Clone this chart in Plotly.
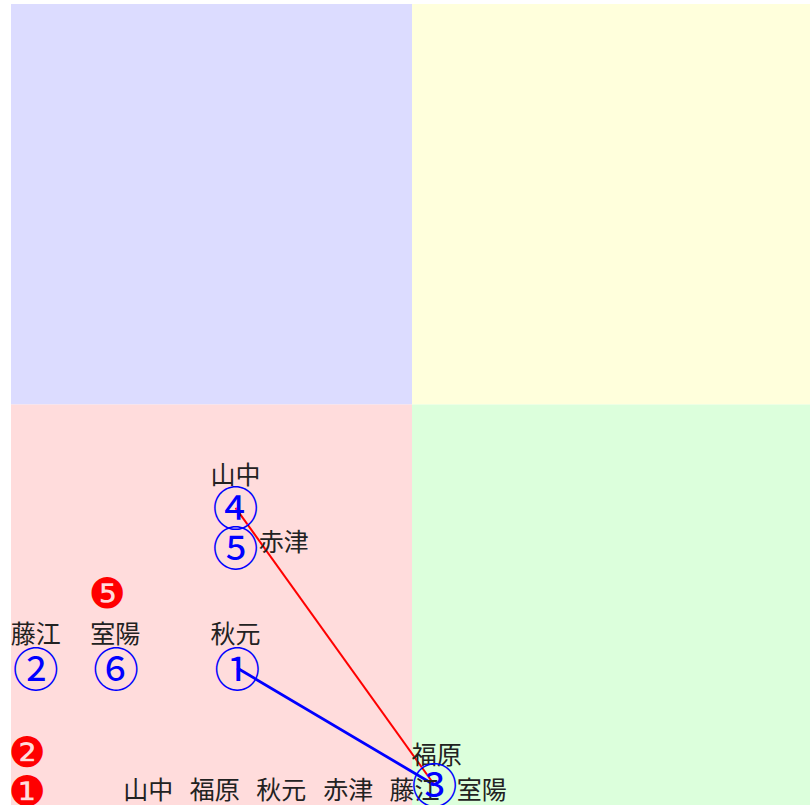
import plotly.graph_objects as go

# Blue circled markers (members)
member_marks = ["①", "②", "③", "④", "⑤", "⑥"]
member_x = [28.2, 3.1, 52.8, 28.0, 28.0, 13.1]
member_y = [17.1, 17.1, 2.5, 37.1, 32.2, 17.1]

# Name labels next to markers
name_labels = ["秋元", "藤江", "福原", "山中", "赤津", "室陽"]
name_x = [28.0, 3.1, 53.1, 28.0, 34.0, 13.0]
name_y = [21.3, 21.3, 6.2, 41.2, 32.8, 21.3]

# Red filled circled markers
red_marks = ["❶", "❷", "❺"]
red_x = [2.0, 2.0, 12.0]
red_y = [1.9, 6.7, 26.6]

# Bottom row of names
row_names = ["山中", "福原", "秋元", "赤津", "藤江", "室陽"]
row_x = [17.1, 25.4, 33.7, 42.05, 50.3, 58.7]
row_y = [1.87, 1.87, 1.87, 1.87, 1.87, 1.87]

# Connection lines
red_line_x = [28.0, 52.8]
red_line_y = [37.1, 2.5]
blue_line_x = [28.2, 52.8]
blue_line_y = [17.1, 2.5]

mid = 50
cjk = "Noto Sans CJK JP"

# glyph baseline corrections (font renders slightly above its anchor)
def shift(vals, d):
    return [v - d for v in vals]

fig = go.Figure()

quads = [
    (0, mid, mid, 100, "#dcdcff"),
    (mid, 100, mid, 100, "#ffffdc"),
    (0, mid, 0, mid, "#ffdcdc"),
    (mid, 100, 0, mid, "#dcffdc"),
]
for x0, x1, y0, y1, c in quads:
    fig.add_shape(type="rect", x0=x0, x1=x1, y0=y0, y1=y1, fillcolor=c,
                  line=dict(width=0), layer="below")

fig.add_trace(go.Scatter(x=red_line_x, y=red_line_y, mode="lines",
                         line=dict(color="#ff0000", width=2), hoverinfo="skip"))
fig.add_trace(go.Scatter(x=blue_line_x, y=blue_line_y, mode="lines",
                         line=dict(color="#0000ff", width=2.8), hoverinfo="skip"))

fig.add_trace(go.Scatter(x=row_x, y=shift(row_y, 0.37), mode="text", text=row_names,
                         textfont=dict(family=cjk, size=25, color="#222222")))
fig.add_trace(go.Scatter(x=name_x, y=shift(name_y, 0.3), mode="text", text=name_labels,
                         textfont=dict(family=cjk, size=25, color="#222222")))
fig.add_trace(go.Scatter(x=member_x, y=shift(member_y, 0.75), mode="text", text=member_marks,
                         textfont=dict(family=cjk, size=46, color="#0000ff")))
fig.add_trace(go.Scatter(x=red_x, y=shift(red_y, 0.7), mode="text", text=red_marks,
                         textfont=dict(family="DejaVu Sans", size=42, color="#ff0000")))

fig.update_layout(
    width=813, height=805,
    margin=dict(l=11, r=0, t=4, b=0),
    plot_bgcolor="white", paper_bgcolor="white",
    showlegend=False,
    xaxis=dict(range=[0, 100], visible=False, fixedrange=True),
    yaxis=dict(range=[0, 100], visible=False, fixedrange=True),
)

fig.write_html("out.html", config={"displayModeBar": False},
               post_script="document.body.style.margin='0';")
